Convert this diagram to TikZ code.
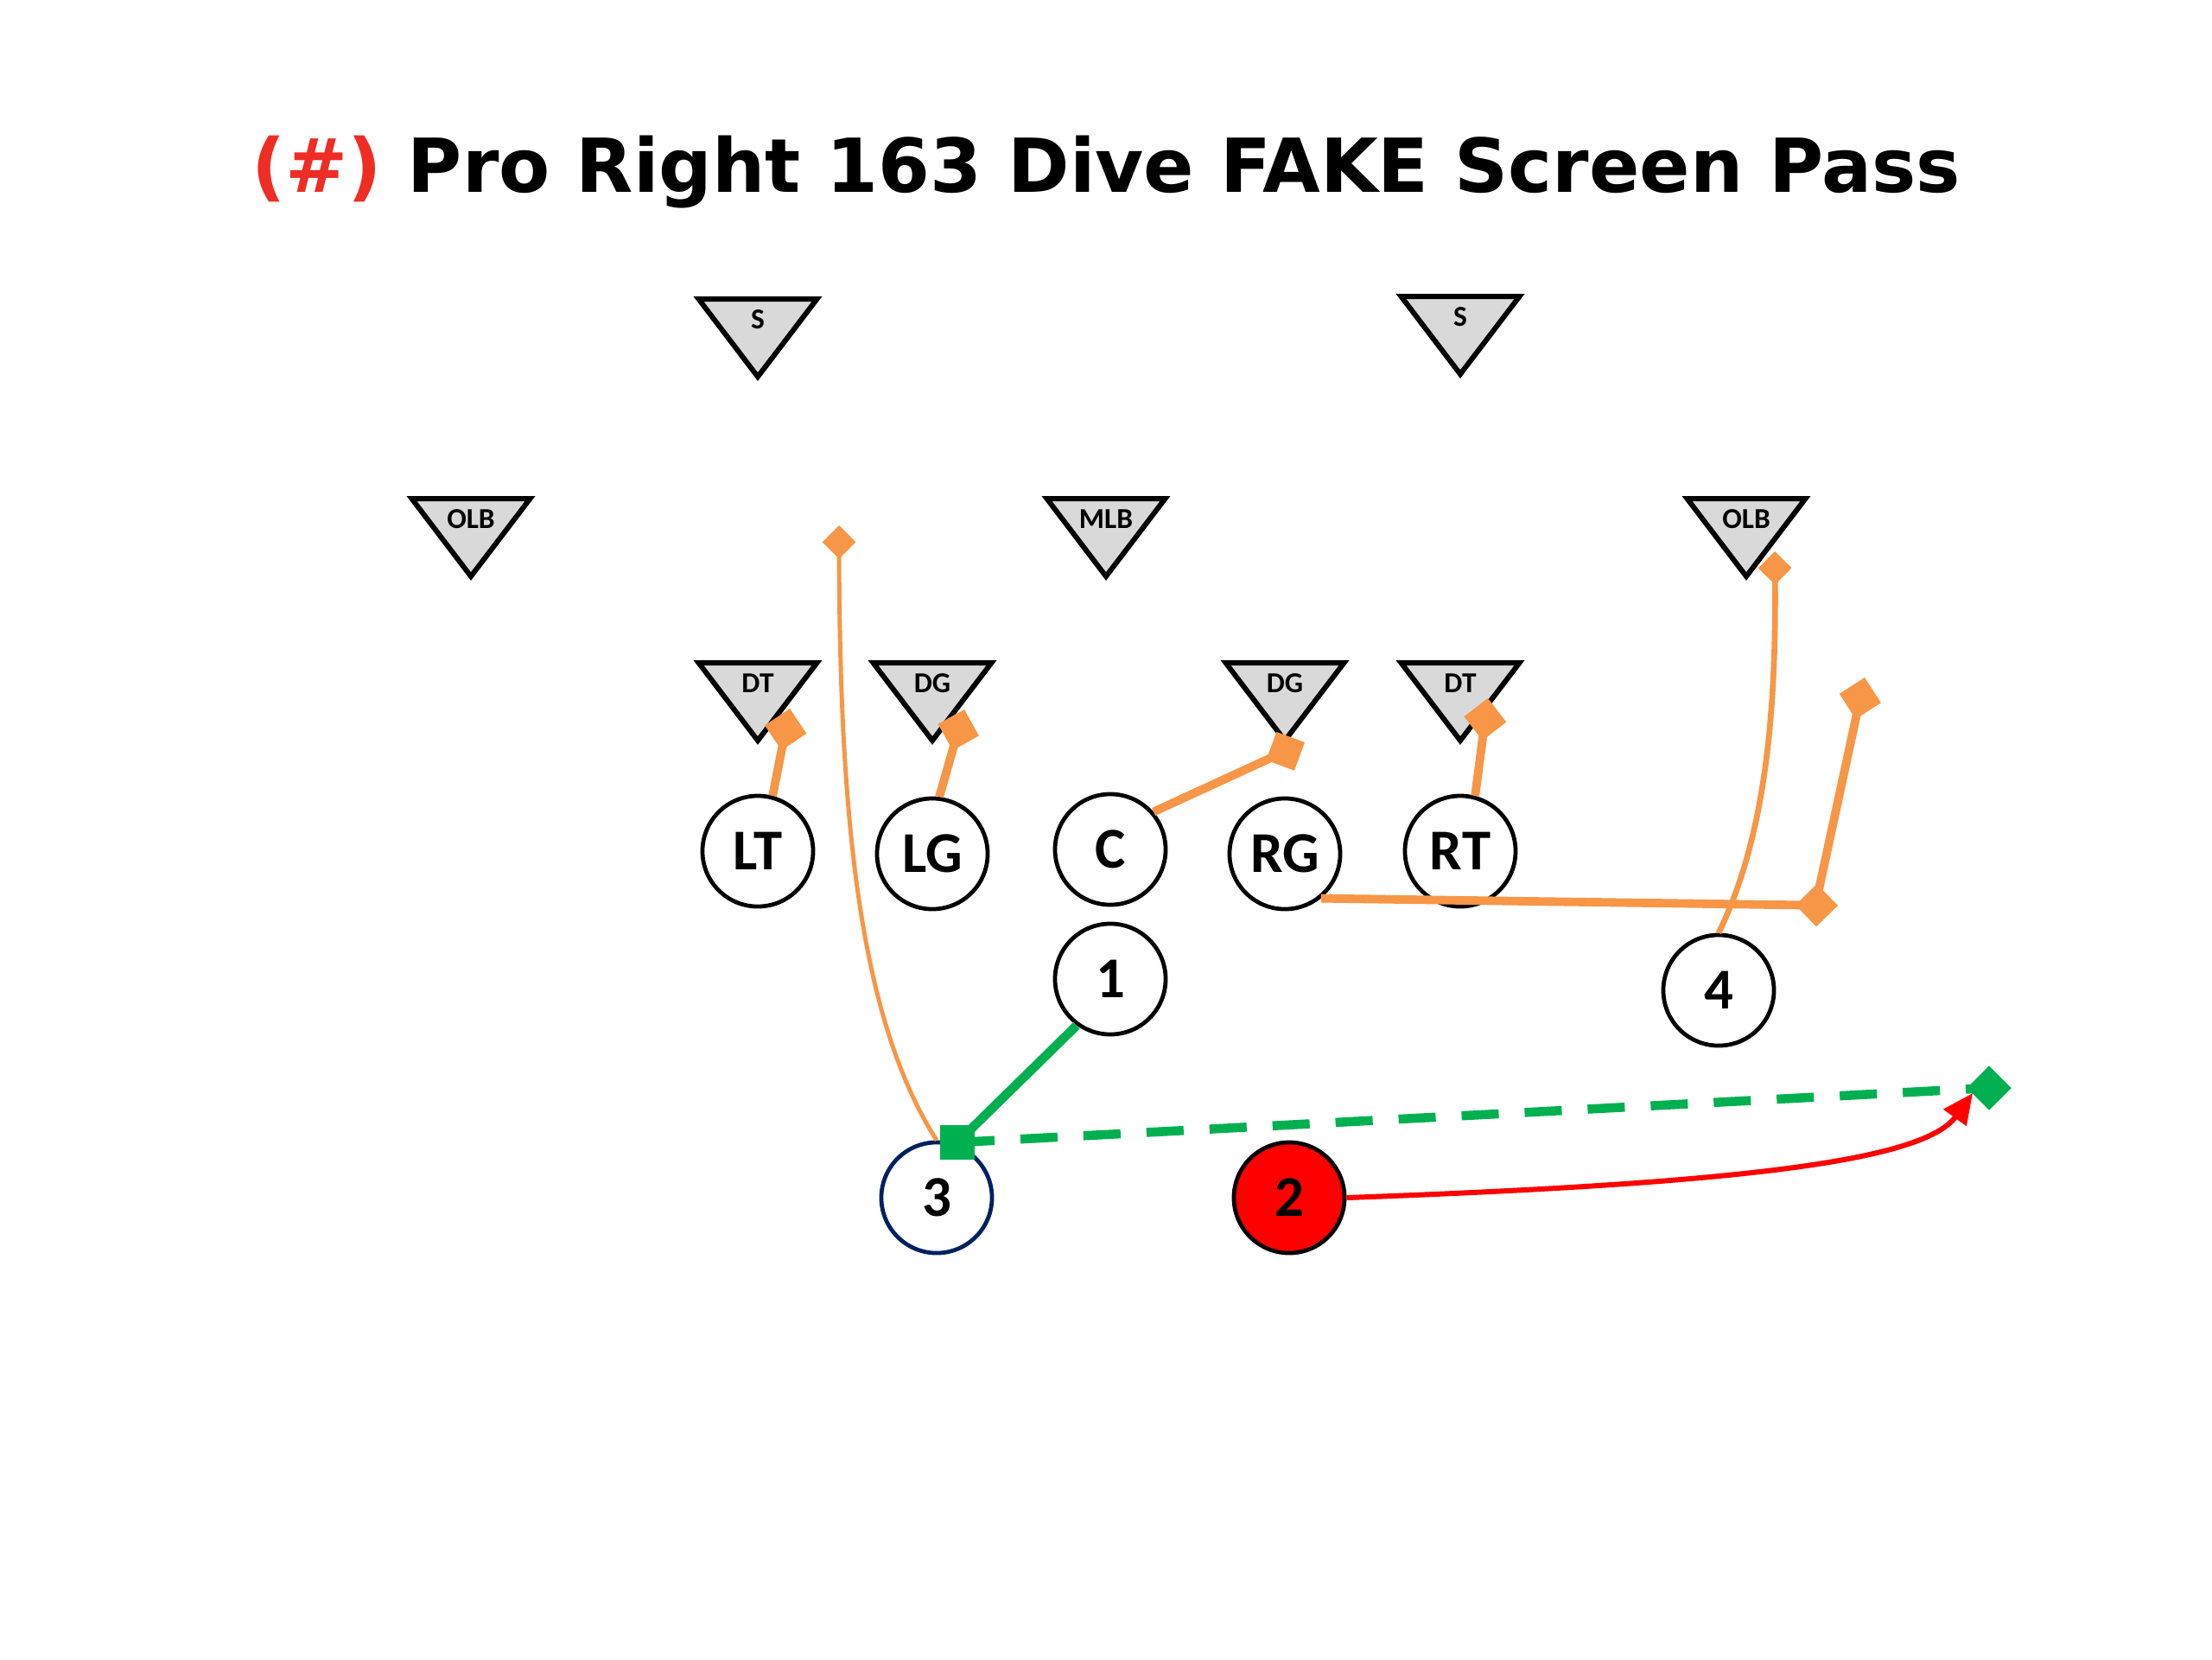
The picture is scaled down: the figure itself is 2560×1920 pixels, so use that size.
\documentclass[tikz,border=0pt]{standalone}
\usepackage{fontspec}
\usetikzlibrary{arrows.meta, shapes.geometric}
\newfontfamily\titlefont{DejaVu Sans}
\newfontfamily\calfont{Carlito}
\definecolor{routeorange}{RGB}{247,150,70}
\definecolor{passgreen}  {RGB}{0,176,80}
\definecolor{defgray}    {RGB}{217,217,217}
\definecolor{navyline}   {RGB}{0,32,96}
\definecolor{titlered}   {RGB}{238,45,36}
\tikzset{
  % Offensive player circle
  player/.style={
    circle, draw=black, line width=1.35pt, fill=white,
    minimum size=1.28cm, inner sep=0pt,
    font=\calfont\bfseries\fontsize{19}{21}\selectfont
  },
  % Defender triangle and its tag
  defender/.style={draw=black, fill=defgray, line width=1.7pt},
  deftag/.style={font=\calfont\bfseries\fontsize{9.5}{11}\selectfont, inner sep=0pt},
  % Route styles
  blockline/.style={draw=routeorange, line width=2.8pt, -{Diamond[length=14pt,width=14pt]}},
  runline/.style={draw=routeorange, line width=1.4pt, -{Diamond[length=11pt,width=11pt]}},
  handoff/.style={draw=passgreen, line width=3pt},
  passline/.style={draw=passgreen, line width=3pt, dash pattern=on 0.43cm off 0.3cm},
  motion/.style={draw=red, line width=1.7pt, -{Triangle[length=10pt,width=9pt]}},
}

\begin{document}
\begin{tikzpicture}[x=0.01cm, y=-0.01cm]
  \useasboundingbox (0,0) rectangle (2560,1920);

  \node[anchor=base, font=\titlefont\bfseries\fontsize{24.5}{28}\selectfont] (title) at (1280,222)
    {\textcolor{titlered}{(\#)} Pro Right 163 Dive FAKE Screen Pass};

  % Defense
  \foreach \nm/\x/\y/\tag in {sl/877/346/S, sr/1690/343/S, olbl/545/577/OLB, mlb/1280/577/MLB,
      olbr/2021/577/OLB, dtl/877/767/DT, dgl/1079/767/DG, dgr/1487/767/DG, dtr/1690/767/DT}{
    \draw[defender] (\x-68.5,\y) -- (\x+68.5,\y) -- (\x,\y+90) -- cycle;
    \node[deftag] (\nm) at (\x,\y+24) {\tag};
  }

  % Offense
  \node[player] (lt)  at (877,985)   {LT};
  \node[player] (lg)  at (1079,988)  {LG};
  \node[player] (ctr) at (1285,983)  {C};
  \node[player] (rg)  at (1487,988)  {RG};
  \node[player] (rt)  at (1690,985)  {RT};
  \node[player] (p1)  at (1285,1133) {1};
  \node[player] (p4)  at (1989,1146) {4};
  \node[player, draw=navyline] (p3) at (1084,1386) {3};
  \node[player, fill=red]      (p2) at (1492,1386) {2};

  % Blocks
  \coordinate (bk1) at (914,820);
  \coordinate (bk2) at (1116,821);
  \coordinate (bk3) at (1510,859);
  \coordinate (bk4) at (1722,808);
  \coordinate (rgcut) at (2127,1048);
  \coordinate (rgend) at (2158,784);
  \draw[blockline] (lt.75)  -- (bk1);
  \draw[blockline] (lg.83)  -- (bk2);
  \draw[blockline] (ctr.41) -- (bk3);
  \draw[blockline] (rt.75)  -- (bk4);
  \draw[blockline] (rg.-51) -- (rgcut);
  \draw[blockline] ([xshift=-0.26cm]rgcut) -- (rgend);

  % Fake routes
  \coordinate (r3end) at (971,608);
  \coordinate (r4end) at (2054,638);
  \draw[runline] (p3.north) .. controls (995,1180) and (972,950) .. (r3end);
  \draw[runline, line width=1.9pt] (p4.north) .. controls (2035,985) and (2056,860) .. (r4end);

  % Handoff and screen pass
  \node[fill=passgreen, minimum size=0.4cm, inner sep=0pt] (hand) at (1108,1322) {};
  \node[diamond, fill=passgreen, minimum width=0.52cm, minimum height=0.52cm, inner sep=0pt] (catch) at (2302,1259) {};
  \draw[handoff]  (p1.-126) -- (hand.center);
  \draw[passline] (hand.center) -- (catch.center);

  \coordinate (r2end) at (2283,1265);
  \draw[motion] (p2.east) .. controls (2000,1370) and (2225,1345) .. (r2end);
\end{tikzpicture}
\end{document}
